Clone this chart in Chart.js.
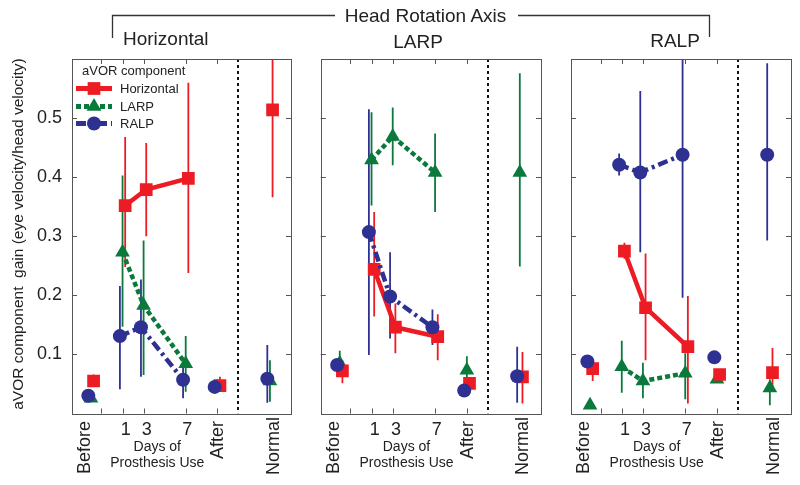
<!DOCTYPE html>
<html>
<head>
<meta charset="utf-8">
<script src="https://cdn.jsdelivr.net/npm/chart.js@4.4.0/dist/chart.umd.min.js"></script>
<style>
  html, body { margin: 0; padding: 0; background: #fff; }
  #wrap { position: relative; width: 800px; height: 485px; overflow: hidden; }
  #wrap canvas { position: absolute; top: 0; }
  #wrap svg { position: absolute; left: 0; top: 0; pointer-events: none; }
  svg text { font-family: 'Liberation Sans', Arial, sans-serif; fill: #222; }
</style>
</head>
<body>
<div id="wrap">
  <canvas id="p0" width="300" height="485" style="left:0px"></canvas>
  <canvas id="p1" width="250" height="485" style="left:300px"></canvas>
  <canvas id="p2" width="250" height="485" style="left:550px"></canvas>
  <svg width="800" height="485">
    <path d="M112.5 38 V15.5 H335 M518 15.5 H709.5 V37" stroke="#333" stroke-width="1.3" fill="none"/>
    <text x="425.5" y="22" text-anchor="middle" font-size="19">Head Rotation Axis</text>
    <text x="123" y="45" font-size="19">Horizontal</text>
    <text x="418" y="48" text-anchor="middle" font-size="19">LARP</text>
    <text x="675" y="47" text-anchor="middle" font-size="19">RALP</text>
    <text transform="translate(17,234) rotate(-90)" text-anchor="middle" dominant-baseline="central"
          font-size="15.5" style="white-space:pre">aVOR component  gain (eye velocity/head velocity)</text>
  </svg>
</div>
<script>
const FONT = "'Liberation Sans', Arial, sans-serif";

// categories along the day axis
const groups = ['Before', '1', '3', '7', 'After', 'Normal'];
const xPos = [-2, 1, 3, 7, 10, 15];
const tickPos = [-1, 1, 3, 7, 10];
const components = ['Horizontal', 'LARP', 'RALP'];

// head rotation: Horizontal  (mean, lower, upper)
const horHor = [0.055, 0.352, 0.379, 0.398, 0.047, 0.514];
const horHorLo = [0.047, 0.248, 0.300, 0.238, 0.037, 0.366];
const horHorHi = [0.066, 0.468, 0.458, 0.560, 0.062, 0.660];
const horLarp = [0.026, 0.273, 0.183, 0.084, 0.045, 0.055];
const horLarpLo = [null, 0.147, 0.065, 0.037, null, 0.020];
const horLarpHi = [null, 0.403, 0.293, 0.131, null, 0.090];
const horRalp = [0.030, 0.131, 0.146, 0.057, 0.045, 0.059];
const horRalpLo = [null, 0.041, 0.062, 0.026, null, 0.018];
const horRalpHi = [null, 0.216, 0.227, 0.080, null, 0.116];

// head rotation: LARP
const larHor = [0.072, 0.244, 0.146, 0.130, 0.051, 0.062];
const larHorLo = [0.051, 0.164, 0.102, 0.090, 0.045, 0.017];
const larHorHi = [0.090, 0.341, 0.186, 0.168, 0.058, 0.104];
const larLarp = [0.085, 0.429, 0.469, 0.408, 0.073, 0.408];
const larLarpLo = [0.070, 0.352, 0.420, 0.341, 0.060, 0.249];
const larLarpHi = [0.106, 0.510, 0.518, 0.474, 0.097, 0.576];
const larRalp = [0.082, 0.307, 0.198, 0.146, 0.039, 0.063];
const larRalpLo = [null, 0.099, 0.127, 0.116, null, 0.018];
const larRalpHi = [null, 0.515, 0.273, 0.176, null, 0.113];

// head rotation: RALP
const ralHor = [0.076, 0.275, 0.179, 0.113, 0.066, 0.069];
const ralHorLo = [0.055, 0.262, 0.090, 0.017, null, 0.037];
const ralHorHi = [0.090, 0.289, 0.271, 0.199, null, 0.111];
const ralLarp = [0.014, 0.079, 0.055, 0.068, 0.058, 0.043];
const ralLarpLo = [null, 0.035, 0.026, 0.024, null, 0.014];
const ralLarpHi = [null, 0.123, 0.086, 0.102, null, 0.058];
const ralRalp = [0.088, 0.421, 0.408, 0.438, 0.095, 0.438];
const ralRalpLo = [null, 0.403, 0.273, 0.196, null, 0.293];
const ralRalpHi = [null, 0.440, 0.546, 0.660, null, 0.593];

const panelSeries = [
  { Horizontal: [horHor, horHorLo, horHorHi], LARP: [horLarp, horLarpLo, horLarpHi], RALP: [horRalp, horRalpLo, horRalpHi] },
  { Horizontal: [larHor, larHorLo, larHorHi], LARP: [larLarp, larLarpLo, larLarpHi], RALP: [larRalp, larRalpLo, larRalpHi] },
  { Horizontal: [ralHor, ralHorLo, ralHorHi], LARP: [ralLarp, ralLarpLo, ralLarpHi], RALP: [ralRalp, ralRalpLo, ralRalpHi] }
];

// looks
const colors = { Horizontal: '#ed1c24', LARP: '#0a7a3c', RALP: '#2e3192' };
const dashes = { Horizontal: [], LARP: [5, 3], RALP: [10, 4, 3, 4] };
const markers = { Horizontal: ['rect', 9], LARP: ['triangle', 8.5], RALP: ['circle', 7] };
const jitter = { Horizontal: 0.25, LARP: 0, RALP: -0.25 };
const labelX = { Before: -2.55, '1': 1.3, '3': 3.3, '7': 7.15, After: 10.1, Normal: 15.35 };

// dotted separator and error bars, drawn under the markers
const errorBars = {
  id: 'errorBars',
  beforeDatasetsDraw(chart) {
    const { ctx, chartArea: a, scales: { x, y } } = chart;
    ctx.save();
    ctx.beginPath();
    ctx.rect(a.left, a.top, a.right - a.left, a.bottom - a.top);
    ctx.clip();
    ctx.strokeStyle = '#111';
    ctx.lineWidth = 2;
    ctx.setLineDash([3, 3]);
    const sx = Math.round(x.getPixelForValue(12));
    ctx.beginPath();
    ctx.moveTo(sx, a.top);
    ctx.lineTo(sx, a.bottom);
    ctx.stroke();
    ctx.setLineDash([]);
    chart.data.datasets.slice().reverse().forEach(ds => {
      ctx.strokeStyle = ds.borderColor;
      ctx.lineWidth = 1.8;
      ds.data.forEach((p, i) => {
        if (ds.errLo[i] == null) return;
        const px = x.getPixelForValue(p.x);
        ctx.beginPath();
        ctx.moveTo(px, y.getPixelForValue(ds.errLo[i]));
        ctx.lineTo(px, y.getPixelForValue(ds.errHi[i]));
        ctx.stroke();
      });
    });
    ctx.restore();
  }
};

// box with inward ticks
const frame = {
  id: 'frame',
  afterDatasetsDraw(chart) {
    const { ctx, chartArea: a, scales: { x, y } } = chart;
    ctx.save();
    ctx.strokeStyle = '#555';
    ctx.lineWidth = 1;
    ctx.strokeRect(Math.round(a.left) + 0.5, Math.round(a.top) + 0.5,
      Math.round(a.right - a.left), Math.round(a.bottom - a.top));
    ctx.beginPath();
    tickPos.forEach(v => {
      const px = Math.round(x.getPixelForValue(v)) + 0.5;
      ctx.moveTo(px, a.top); ctx.lineTo(px, a.top + 5);
      ctx.moveTo(px, a.bottom); ctx.lineTo(px, a.bottom - 5);
    });
    [0.1, 0.2, 0.3, 0.4, 0.5].forEach(v => {
      const py = Math.round(y.getPixelForValue(v)) + 0.5;
      ctx.moveTo(a.left, py); ctx.lineTo(a.left + 5, py);
      ctx.moveTo(a.right, py); ctx.lineTo(a.right - 5, py);
    });
    ctx.stroke();
    ctx.restore();
  }
};

// category labels under each panel
const xLabels = {
  id: 'xLabels',
  afterDraw(chart) {
    const { ctx, scales: { x } } = chart;
    ctx.save();
    ctx.fillStyle = '#222';
    ctx.font = '18px ' + FONT;
    groups.forEach(g => {
      const px = x.getPixelForValue(labelX[g]);
      if (g === 'Before' || g === 'After' || g === 'Normal') {
        ctx.save();
        ctx.translate(px, g === 'Normal' ? 417 : 421);
        ctx.rotate(-Math.PI / 2);
        ctx.textAlign = 'right';
        ctx.textBaseline = 'middle';
        ctx.fillText(g, 0, 0);
        ctx.restore();
      } else {
        ctx.textAlign = 'center';
        ctx.textBaseline = 'alphabetic';
        ctx.fillText(g, px, 435);
      }
    });
    ctx.font = '14px ' + FONT;
    ctx.textAlign = 'center';
    const cx = x.getPixelForValue(4.3);
    ctx.fillText('Days of', cx, 451);
    ctx.fillText('Prosthesis Use', cx, 467);
    ctx.restore();
  }
};

// legend inside the first panel
const innerLegend = {
  id: 'innerLegend',
  afterDraw(chart) {
    const ctx = chart.ctx;
    ctx.save();
    ctx.fillStyle = '#222';
    ctx.font = '13px ' + FONT;
    ctx.textBaseline = 'alphabetic';
    ctx.fillText('aVOR component', 82, 75);
    const rows = [88.5, 106.5, 123.5];
    components.forEach((c, i) => {
      const yy = rows[i];
      ctx.strokeStyle = colors[c];
      ctx.lineWidth = 5;
      ctx.setLineDash(dashes[c]);
      ctx.beginPath();
      ctx.moveTo(76, yy); ctx.lineTo(112, yy);
      ctx.stroke();
      ctx.setLineDash([]);
      ctx.fillStyle = colors[c];
      Chart.helpers.drawPoint(ctx, { pointStyle: markers[c][0], radius: markers[c][1], rotation: 0, borderWidth: 0 }, 94, yy);
      ctx.fillStyle = '#222';
      ctx.textBaseline = 'middle';
      ctx.fillText(c, 120, yy + 1);
    });
    ctx.restore();
  }
};

function makePanel(id, idx, padLeft) {
  const series = panelSeries[idx];
  const datasets = ['RALP', 'Horizontal', 'LARP'].map(c => {
    const [vals, lo, hi] = series[c];
    const col = colors[c];
    return {
      label: c,
      data: vals.map((v, i) => ({ x: xPos[i] + jitter[c], y: v })),
      errLo: lo,
      errHi: hi,
      showLine: true,
      borderColor: col,
      borderWidth: 4.5,
      borderDash: dashes[c],
      borderCapStyle: 'butt',
      segment: {
        borderColor: s => (s.p0DataIndex >= 1 && s.p1DataIndex <= 3) ? col : 'rgba(0,0,0,0)'
      },
      pointStyle: markers[c][0],
      pointRadius: markers[c][1],
      pointBackgroundColor: col,
      pointBorderWidth: 0,
      pointHoverRadius: markers[c][1]
    };
  });
  const plugins = [errorBars, frame, xLabels];
  if (idx === 0) plugins.push(innerLegend);
  const yAxis = {
    type: 'linear', min: 0, max: 0.6,
    display: idx === 0,
    grid: { display: false, drawTicks: false },
    border: { display: false },
    ticks: {
      stepSize: 0.1,
      padding: 10,
      color: '#222',
      font: { size: 18, family: FONT },
      callback: v => (v > 0.05 && v < 0.55) ? v.toFixed(1) : ''
    }
  };
  if (idx === 0) yAxis.afterFit = s => { s.width = 72; };
  return new Chart(document.getElementById(id), {
    type: 'scatter',
    data: { datasets },
    options: {
      responsive: false,
      animation: false,
      devicePixelRatio: 1,
      layout: { padding: { left: padLeft, right: 7.7, top: 59, bottom: 71.5 } },
      plugins: { legend: { display: false }, tooltip: { enabled: false } },
      scales: {
        x: { type: 'linear', min: -3.8, max: 17, display: false },
        y: yAxis
      }
    },
    plugins
  });
}

makePanel('p0', 0, 0);
makePanel('p1', 1, 20.7);
makePanel('p2', 2, 21);
</script>
</body>
</html>
